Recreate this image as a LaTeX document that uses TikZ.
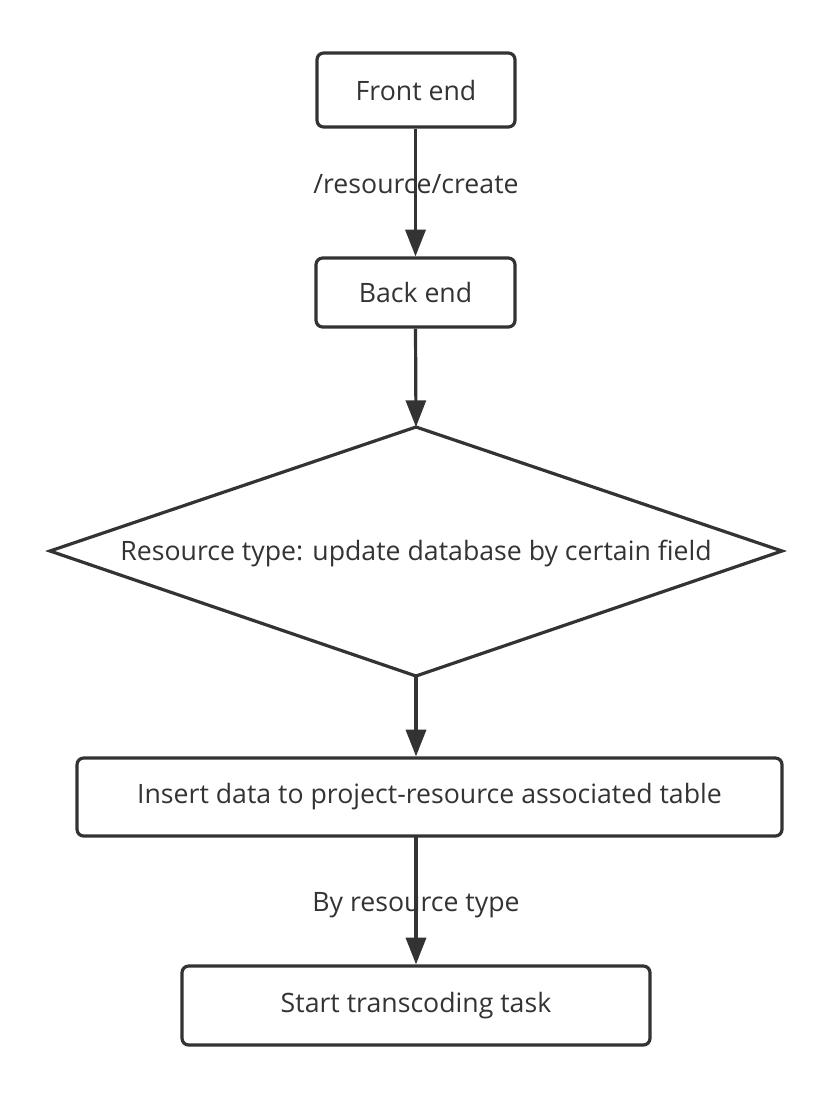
\documentclass[tikz,border=0pt]{standalone}
\usepackage{fontspec}
\setmainfont{Open Sans}
\usetikzlibrary{arrows.meta,shapes.geometric}
\definecolor{ln}{HTML}{333333}
\begin{document}
\begin{tikzpicture}[x=0.75pt,y=-0.75pt,
  box/.style={draw=ln,line width=2.4pt,rounded corners=5pt,font=\fontsize{20}{24}\selectfont,text=ln},
  arr/.style={draw=ln,line width=2.4pt,-{Triangle[width=15pt,length=20pt]}},
  lbl/.style={font=\fontsize{20}{24}\selectfont,text=ln}]
\useasboundingbox (0,0) rectangle (832,1096);
\node[box,minimum width=148.5pt,minimum height=55.5pt] (fe) at (416,90) {Front end};
\node[box,minimum width=149.25pt,minimum height=51.75pt] (be) at (415.5,292.5) {Back end};
\coordinate (dN) at (416,427);
\coordinate (dE) at (782,551);
\coordinate (dS) at (416,676);
\coordinate (dW) at (50,551);
\draw[draw=ln,line width=2.4pt,line join=miter] (dN) -- (dE) -- (dS) -- (dW) -- cycle;
\node[lbl] (dt) at (416,553) {Resource type: update database by certain field};
\node[box,minimum width=528.75pt,minimum height=58.5pt] (ins) at (429.5,797) {Insert data to project-resource associated table};
\node[box,minimum width=351pt,minimum height=59.25pt] (st) at (416,1005.5) {Start transcoding task};
\coordinate (insb) at (416,836);
\draw[arr] (fe.south -| be.north) -- (be.north);
\draw[arr] (be.south) -- (dN);
\draw[arr] (dS) -- (dS |- ins.north);
\draw[arr] (insb) -- (st.north);
\node[lbl] (l1) at (416,184) {/resource/create};
\node[lbl] (l2) at (416,905) {By resource type};
\end{tikzpicture}
\end{document}
